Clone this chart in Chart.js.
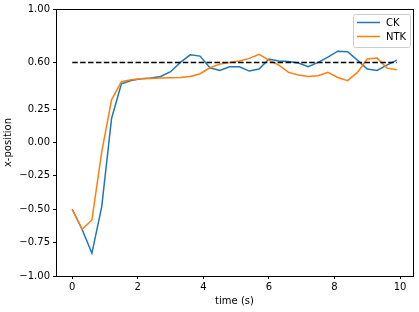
<!DOCTYPE html>
<html>
<head>
<meta charset="utf-8">
<script src="https://cdn.jsdelivr.net/npm/chart.js@4.4.1/dist/chart.umd.min.js"></script>
<style>
  html, body { margin: 0; padding: 0; background: #fff; }
  #wrap { width: 419px; height: 312px; }
</style>
</head>
<body>
<div id="wrap"><canvas id="chart" width="419" height="312"></canvas></div>
<script>
// time samples (s)
const times = [0, 0.3, 0.6, 0.9, 1.2, 1.5, 1.8, 2.1, 2.4, 2.7, 3.0, 3.3, 3.6, 3.9, 4.2, 4.5, 4.8,
  5.1, 5.4, 5.7, 6.0, 6.3, 6.6, 6.9, 7.2, 7.5, 7.8, 8.1, 8.4, 8.7, 9.0, 9.3, 9.6, 9.9];

// x-position per method
const ck = [-0.5, -0.65, -0.83, -0.48, 0.18, 0.44, 0.465, 0.478, 0.483, 0.495, 0.53, 0.6, 0.657, 0.647,
  0.56, 0.54, 0.567, 0.567, 0.535, 0.55, 0.625, 0.61, 0.607, 0.595, 0.567, 0.6, 0.64, 0.684,
  0.68, 0.617, 0.55, 0.54, 0.58, 0.617];
const ntk = [-0.5, -0.65, -0.58, -0.07, 0.32, 0.455, 0.47, 0.478, 0.48, 0.483, 0.485, 0.487, 0.495, 0.515,
  0.56, 0.587, 0.6, 0.61, 0.63, 0.66, 0.617, 0.58, 0.525, 0.505, 0.495, 0.5, 0.525, 0.487,
  0.463, 0.525, 0.625, 0.632, 0.557, 0.545];

const target = 0.6;
const seriesNames = ["CK", "NTK"];
const seriesColors = ["#1f77b4", "#ff7f0e"];

const xTicks = [0, 2, 4, 6, 8, 10];
const yTicks = [-1, -0.75, -0.5, -0.25, 0, 0.25, 0.6, 1];

const FONT = "'DejaVu Sans', sans-serif";

function pts(ys) {
  return times.map(function(t, i) { return { x: t, y: ys[i] }; });
}

// full box around the plot, like matplotlib spines
const frame = {
  id: "frame",
  afterDraw(chart) {
    const a = chart.chartArea, ctx = chart.ctx;
    ctx.save();
    ctx.strokeStyle = "#000";
    ctx.lineWidth = 1;
    ctx.strokeRect(Math.round(a.left) + 0.5, Math.round(a.top) + 0.5,
      Math.round(a.right - a.left), Math.round(a.bottom - a.top));
    ctx.restore();
  }
};

// legend box in the upper right corner
const legendBox = {
  id: "legendBox",
  afterDraw(chart) {
    const a = chart.chartArea, ctx = chart.ctx;
    const w = 57, h = 33;
    const x = a.right - w - 3, y = a.top + 5;
    ctx.save();
    ctx.fillStyle = "rgba(255,255,255,0.8)";
    ctx.strokeStyle = "#cccccc";
    ctx.lineWidth = 1;
    ctx.beginPath();
    ctx.roundRect(x + 0.5, y + 0.5, w, h, 2);
    ctx.fill();
    ctx.stroke();
    ctx.font = "10px " + FONT;
    ctx.textBaseline = "middle";
    seriesNames.forEach(function(name, i) {
      const ly = y + 8.5 + i * 14;
      ctx.strokeStyle = seriesColors[i];
      ctx.lineWidth = 1.5;
      ctx.beginPath();
      ctx.moveTo(x + 4, ly);
      ctx.lineTo(x + 27, ly);
      ctx.stroke();
      ctx.fillStyle = "#000";
      ctx.fillText(name, x + 33, ly + 0.5);
    });
    ctx.restore();
  }
};

const ctx = document.getElementById("chart").getContext("2d");
new Chart(ctx, {
  type: "line",
  data: {
    datasets: [
      {
        label: "target",
        data: [{ x: times[0], y: target }, { x: times[times.length - 1], y: target }],
        borderColor: "#000",
        borderWidth: 1.5,
        borderDash: [5.5, 2.4],
        pointRadius: 0,
        order: 0
      },
      {
        label: seriesNames[1],
        data: pts(ntk),
        borderColor: seriesColors[1],
        borderWidth: 1.5,
        pointRadius: 0,
        order: 1
      },
      {
        label: seriesNames[0],
        data: pts(ck),
        borderColor: seriesColors[0],
        borderWidth: 1.5,
        pointRadius: 0,
        order: 2
      }
    ]
  },
  options: {
    responsive: false,
    animation: false,
    layout: { padding: { top: 8, right: 6, left: 2, bottom: 5 } },
    plugins: {
      legend: { display: false },
      tooltip: { enabled: false }
    },
    scales: {
      x: {
        type: "linear",
        min: -0.495,
        max: 10.395,
        afterBuildTicks: function(scale) {
          scale.ticks = xTicks.map(function(v) { return { value: v }; });
        },
        afterFit: function(scale) { scale.height = 31; },
        border: { display: false },
        grid: { drawOnChartArea: false, tickLength: 3, tickColor: "#000", tickWidth: 1 },
        ticks: {
          color: "#000",
          font: { family: FONT, size: 10 },
          padding: 2,
          maxRotation: 0,
          callback: function(v) { return String(v); }
        },
        title: {
          display: true,
          text: "time (s)",
          color: "#000",
          font: { family: FONT, size: 10 },
          padding: { top: 0, bottom: 0 }
        }
      },
      y: {
        type: "linear",
        min: -1,
        max: 1,
        afterBuildTicks: function(scale) {
          scale.ticks = yTicks.map(function(v) { return { value: v }; });
        },
        afterFit: function(scale) { scale.width = 54; },
        border: { display: false },
        grid: { drawOnChartArea: false, tickLength: 3, tickColor: "#000", tickWidth: 1 },
        ticks: {
          color: "#000",
          font: { family: FONT, size: 10 },
          padding: 3,
          callback: function(v) { return v.toFixed(2).replace("-", "\u2212"); }
        },
        title: {
          display: true,
          text: "x-position",
          color: "#000",
          font: { family: FONT, size: 10 },
          padding: { top: 0, bottom: 0 }
        }
      }
    }
  },
  plugins: [frame, legendBox]
});
</script>
</body>
</html>
